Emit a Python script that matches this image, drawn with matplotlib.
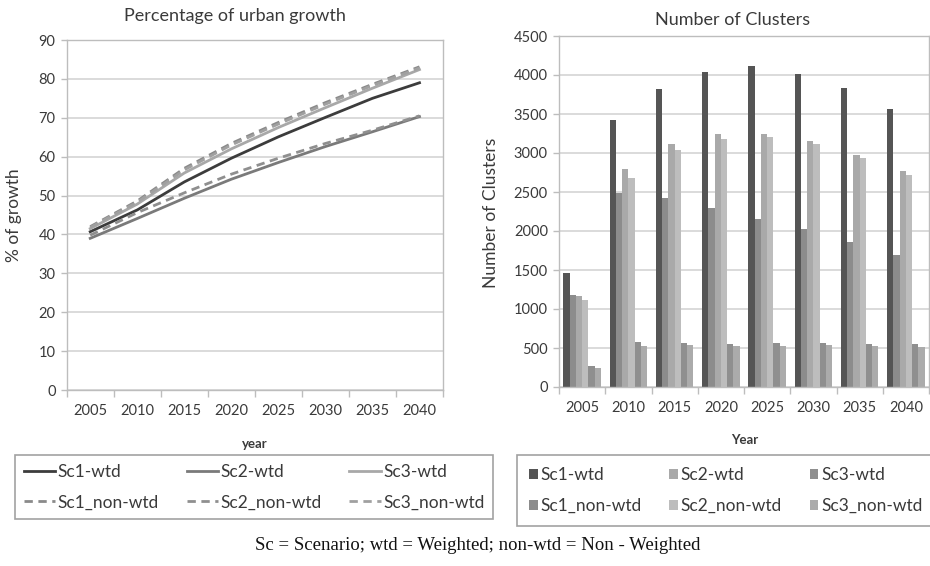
import matplotlib
matplotlib.use("Agg")
import matplotlib.pyplot as plt
import numpy as np
from matplotlib.lines import Line2D
from matplotlib.patches import Patch

plt.rcParams['font.family'] = ['Lato', 'DejaVu Sans']

years = ["2005", "2010", "2015", "2020", "2025", "2030", "2035", "2040"]

# Percentage of urban growth
sc1_wtd = [40.7, 46.3, 53.5, 59.6, 65.1, 70.1, 75.0, 79.0]
sc2_wtd = [39.0, 44.1, 49.3, 54.2, 58.5, 62.6, 66.4, 70.3]
sc3_wtd = [41.5, 47.8, 55.8, 62.0, 67.5, 72.6, 77.6, 82.4]
sc1_non_wtd = [42.0, 48.6, 57.0, 63.4, 68.8, 73.9, 78.6, 83.1]
sc2_non_wtd = [39.8, 45.6, 50.7, 55.5, 59.6, 63.4, 66.8, 70.5]
sc3_non_wtd = [41.8, 48.3, 56.6, 63.0, 68.4, 73.5, 78.3, 82.8]

# Number of clusters
cl_sc1_wtd = [1460, 3420, 3820, 4040, 4110, 4010, 3830, 3570]
cl_sc1_non_wtd = [1180, 2490, 2420, 2300, 2160, 2020, 1860, 1690]
cl_sc2_wtd = [1165, 2790, 3110, 3240, 3240, 3150, 2980, 2770]
cl_sc2_non_wtd = [1110, 2680, 3040, 3180, 3200, 3110, 2940, 2720]
cl_sc3_wtd = [275, 575, 560, 550, 560, 560, 550, 545]
cl_sc3_non_wtd = [250, 530, 540, 530, 530, 540, 530, 515]

W, H = 930, 566
fig = plt.figure(figsize=(W / 100, H / 100), dpi=100)
fig.patch.set_facecolor("white")

txt = "#3a3a3a"
grid_c = "#d4d4d4"
spine_c = "#bdbdbd"


def frac_box(x0, y0, x1, y1):
    return [x0 / W, 1 - y1 / H, (x1 - x0) / W, (y1 - y0) / H]


def style_axes(ax):
    for s in ax.spines.values():
        s.set_color(spine_c)
        s.set_linewidth(1.0)
    ax.set_axisbelow(True)
    ax.yaxis.grid(True, color=grid_c, linewidth=1.2)
    ax.tick_params(axis="y", colors=txt, labelsize=10.5, length=4, color=spine_c, width=1.0, pad=4)
    ax.tick_params(axis="x", which="major", colors=txt, labelsize=10.5, length=0, pad=10)
    ax.tick_params(axis="x", which="minor", length=5, color=spine_c, width=1.0)


x = np.arange(len(years))

# ---- Line chart ----
ax1 = fig.add_axes(frac_box(66.7, 40, 443, 390))
style_axes(ax1)
line_specs = [
    (sc1_wtd, "Sc1-wtd", "#3c3c3c", "-"),
    (sc1_non_wtd, "Sc1_non-wtd", "#8a8a8a", (0, (3, 2))),
    (sc2_wtd, "Sc2-wtd", "#7a7a7a", "-"),
    (sc2_non_wtd, "Sc2_non-wtd", "#8f8f8f", (0, (3, 2))),
    (sc3_wtd, "Sc3-wtd", "#a8a8a8", "-"),
    (sc3_non_wtd, "Sc3_non-wtd", "#a0a0a0", (0, (3, 2))),
]
line_handles = []
for vals, lab, col, ls in line_specs:
    ax1.plot(x, vals, color=col, linestyle=ls, linewidth=2.0)
    line_handles.append(Line2D([], [], color=col, linestyle=ls, linewidth=2.0, label=lab))
ax1.set_xlim(-0.5, len(years) - 0.5)
ax1.set_ylim(0, 90)
ax1.set_yticks(range(0, 91, 10))
ax1.set_xticks(x)
ax1.set_xticklabels(years)
ax1.set_xticks(np.arange(-0.5, len(years), 1.0), minor=True)

fig.text(235 / W, 1 - 16 / H, "Percentage of urban growth", ha="center", va="center",
         fontsize=13, color=txt)
fig.text(14 / W, 1 - 215 / H, "% of growth", ha="center", va="center", rotation=90,
         fontsize=12.5, color=txt)
fig.text(255 / W, 1 - 444 / H, "year", ha="center", va="center", fontsize=9.5,
         fontweight="bold", color=txt)

# ---- Bar chart ----
ax2 = fig.add_axes(frac_box(559, 36, 929, 387))
style_axes(ax2)
bar_specs = [
    (cl_sc1_wtd, "Sc1-wtd", "#555555"),
    (cl_sc1_non_wtd, "Sc1_non-wtd", "#8c8c8c"),
    (cl_sc2_wtd, "Sc2-wtd", "#a9a9a9"),
    (cl_sc2_non_wtd, "Sc2_non-wtd", "#bdbdbd"),
    (cl_sc3_wtd, "Sc3-wtd", "#8f8f8f"),
    (cl_sc3_non_wtd, "Sc3_non-wtd", "#ababab"),
]
bw = 0.136
bar_handles = []
for i, (vals, lab, col) in enumerate(bar_specs):
    offs = (i - 2.5) * bw
    ax2.bar(x + offs, vals, width=bw, color=col, edgecolor="none")
    bar_handles.append(Patch(facecolor=col, edgecolor="none", label=lab))
ax2.set_xlim(-0.5, len(years) - 0.5)
ax2.set_ylim(0, 4500)
ax2.set_yticks(range(0, 4501, 500))
ax2.set_xticks(x)
ax2.set_xticklabels(years)
ax2.set_xticks(np.arange(-0.5, len(years), 1.0), minor=True)

fig.text(733 / W, 1 - 20 / H, "Number of Clusters", ha="center", va="center",
         fontsize=13, color=txt)
fig.text(491 / W, 1 - 213 / H, "Number of Clusters", ha="center", va="center",
         rotation=90, fontsize=12.5, color=txt)
fig.text(745 / W, 1 - 440 / H, "Year", ha="center", va="center", fontsize=9.5,
         fontweight="bold", color=txt)

# ---- Legends ----
leg_kw = dict(ncol=3, frameon=True, fancybox=False, fontsize=12.5,
              labelcolor=txt, labelspacing=0.85,
              columnspacing=1.6, handletextpad=0.15, borderaxespad=0.0)
leg1 = fig.legend(handles=line_handles, loc="upper left",
                  bbox_to_anchor=(15 / W, 1 - 455 / H), handlelength=1.8,
                  borderpad=0.5, **leg_kw)
leg1.get_frame().set_edgecolor("#8a8a8a")
leg1.get_frame().set_linewidth(1.2)

leg2 = fig.legend(handles=bar_handles, loc="upper left",
                  bbox_to_anchor=(517 / W, 1 - 455 / H), handlelength=0.5,
                  handleheight=0.5, borderpad=0.7, **leg_kw)
leg2.get_frame().set_edgecolor("#8a8a8a")
leg2.get_frame().set_linewidth(1.2)

fig.text(478 / W, 1 - 546 / H,
         "Sc = Scenario; wtd = Weighted; non-wtd = Non - Weighted",
         ha="center", va="center", fontsize=13.5, family="Liberation Serif", color="#111111")

fig.savefig("out.png", dpi=100, facecolor="white")
